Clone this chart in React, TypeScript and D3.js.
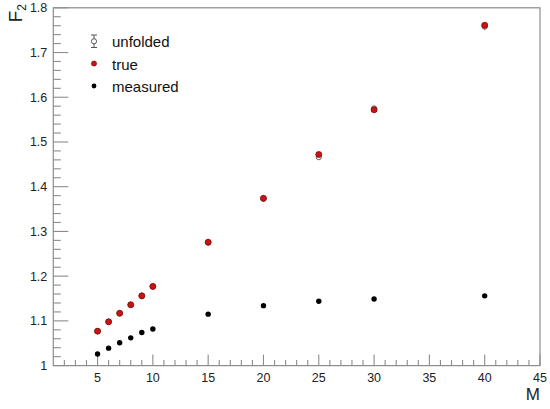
import React from "react";
import * as d3 from "d3";

const mValues = [5, 6, 7, 8, 9, 10, 15, 20, 25, 30, 40];
const measuredF2 = [1.026, 1.039, 1.051, 1.062, 1.074, 1.082, 1.115, 1.134, 1.144, 1.149, 1.156];
const trueF2 = [1.077, 1.098, 1.117, 1.136, 1.156, 1.177, 1.276, 1.374, 1.472, 1.572, 1.761];
const unfoldedF2 = [1.077, 1.098, 1.117, 1.136, 1.156, 1.177, 1.275, 1.373, 1.466, 1.575, 1.758];
const unfoldedErr = [0.002, 0.002, 0.002, 0.002, 0.002, 0.002, 0.003, 0.004, 0.005, 0.006, 0.008];
const xTicks = [5, 10, 15, 20, 25, 30, 35, 40, 45];
const yTicks = [1, 1.1, 1.2, 1.3, 1.4, 1.5, 1.6, 1.7, 1.8];
const legendLabels = ["unfolded", "true", "measured"];

const W = 550;
const H = 409;
const left = 53.3;
const right = 540;
const top = 7.8;
const bottom = 365.6;
const FONT = "'Liberation Sans', Arial, Helvetica, sans-serif";
const AXIS = "#8c8c8c";
const RED = "#c81414";
const RED_DARK = "#7a0808";

export default function App() {
  const x = d3.scaleLinear().domain([1, 45]).range([left, right]);
  const y = d3.scaleLinear().domain([1, 1.8]).range([bottom, top]);

  const xMinor = d3.range(2, 45, 1).filter((v) => v % 5 !== 0);
  const yMinor = d3.range(0, 41).map((i) => 1 + i * 0.02).filter((_, i) => i % 5 !== 0);

  return (
    <svg width={W} height={H} style={{ position: "absolute", left: 0, top: 0, background: "#fff" }}>
      {/* frame */}
      <rect x={left} y={top} width={right - left} height={bottom - top} fill="none" stroke={AXIS} strokeWidth={1.2} />

      {/* x ticks */}
      {xTicks.map((t) => (
        <g key={"xt" + t}>
          <line x1={x(t)} x2={x(t)} y1={bottom} y2={bottom - 11} stroke={AXIS} strokeWidth={1.1} />
          <text x={x(t)} y={bottom + 16} textAnchor="middle" fontFamily={FONT} fontSize={12.5} fill="#222">
            {t}
          </text>
        </g>
      ))}
      {xMinor.map((t) => (
        <line key={"xm" + t} x1={x(t)} x2={x(t)} y1={bottom} y2={bottom - 5.5} stroke={AXIS} strokeWidth={1.1} />
      ))}

      {/* y ticks */}
      {yTicks.map((t) => (
        <g key={"yt" + t}>
          <line x1={left} x2={left + 15} y1={y(t)} y2={y(t)} stroke={AXIS} strokeWidth={1.1} />
          <text x={left - 6} y={y(t) + 4.5} textAnchor="end" fontFamily={FONT} fontSize={12.5} fill="#222">
            {d3.format("")(+t.toFixed(1))}
          </text>
        </g>
      ))}
      {yMinor.map((t, i) => (
        <line key={"ym" + i} x1={left} x2={left + 7.5} y1={y(t)} y2={y(t)} stroke={AXIS} strokeWidth={1.1} />
      ))}

      {/* axis titles */}
      <text x={right} y={400} textAnchor="end" fontFamily={FONT} fontSize={17} fill="#222">
        M
      </text>
      <text
        transform={`translate(22, 4) rotate(-90)`}
        textAnchor="end"
        fontFamily={FONT}
        fontSize={19}
        fill="#222"
      >
        F<tspan fontSize={12} dy={4}>2</tspan>
      </text>

      {/* unfolded */}
      {mValues.map((m, i) => (
        <g key={"u" + m}>
          <line x1={x(m)} x2={x(m)} y1={y(unfoldedF2[i] - unfoldedErr[i])} y2={y(unfoldedF2[i] + unfoldedErr[i])} stroke="#555" strokeWidth={1} />
          <circle cx={x(m)} cy={y(unfoldedF2[i])} r={2.6} fill="#fff" stroke="#666" strokeWidth={1} />
        </g>
      ))}

      {/* true */}
      {mValues.map((m, i) => (
        <circle key={"t" + m} cx={x(m)} cy={y(trueF2[i])} r={3} fill={RED} stroke={RED_DARK} strokeWidth={0.8} />
      ))}

      {/* measured */}
      {mValues.map((m, i) => (
        <circle key={"m" + m} cx={x(m)} cy={y(measuredF2[i])} r={2.7} fill="#000" />
      ))}

      {/* legend */}
      <g>
        <line x1={94} x2={94} y1={35} y2={47.5} stroke="#555" strokeWidth={1} />
        <line x1={91} x2={97} y1={35} y2={35} stroke="#555" strokeWidth={1} />
        <line x1={91} x2={97} y1={47.5} y2={47.5} stroke="#555" strokeWidth={1} />
        <circle cx={94} cy={41.3} r={2.6} fill="#fff" stroke="#555" strokeWidth={1} />
        <circle cx={94} cy={63.5} r={2.6} fill={RED} stroke={RED_DARK} strokeWidth={0.6} />
        <circle cx={94} cy={86} r={2.4} fill="#000" />
        {legendLabels.map((l, i) => (
          <text key={l} x={112} y={47 + i * 22.5} fontFamily={FONT} fontSize={15} fill="#111">
            {l}
          </text>
        ))}
      </g>
    </svg>
  );
}
